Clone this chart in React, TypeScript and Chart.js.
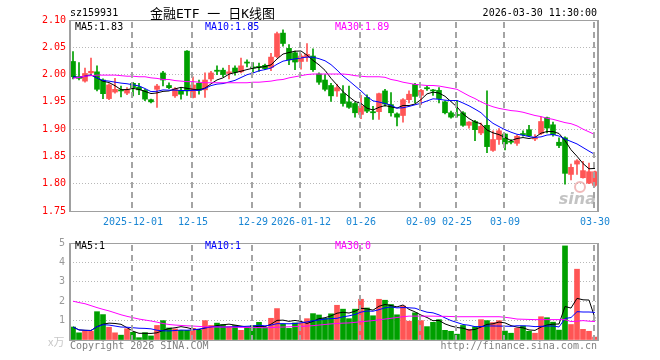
import React, { useEffect, useRef } from "react";
import { Chart, registerables } from "chart.js";
Chart.register(...registerables);

const dates = [
  "2025-11-17","2025-11-18","2025-11-19","2025-11-20","2025-11-21","2025-11-24","2025-11-25","2025-11-26","2025-11-27","2025-11-28",
  "2025-12-01","2025-12-02","2025-12-03","2025-12-04","2025-12-05","2025-12-08","2025-12-09","2025-12-10","2025-12-11","2025-12-12",
  "2025-12-15","2025-12-16","2025-12-17","2025-12-18","2025-12-19","2025-12-22","2025-12-23","2025-12-24","2025-12-25","2025-12-26",
  "2025-12-29","2025-12-30","2025-12-31","2026-01-05","2026-01-06","2026-01-07","2026-01-08","2026-01-09",
  "2026-01-12","2026-01-13","2026-01-14","2026-01-15","2026-01-16","2026-01-19","2026-01-20","2026-01-21","2026-01-22","2026-01-23",
  "2026-01-26","2026-01-27","2026-01-28","2026-01-29","2026-01-30","2026-02-02","2026-02-03","2026-02-04","2026-02-05","2026-02-06",
  "2026-02-09","2026-02-10","2026-02-11","2026-02-12","2026-02-13","2026-02-24",
  "2026-02-25","2026-02-26","2026-02-27","2026-03-02","2026-03-03","2026-03-04","2026-03-05","2026-03-06",
  "2026-03-09","2026-03-10","2026-03-11","2026-03-12","2026-03-13","2026-03-16","2026-03-17","2026-03-18","2026-03-19","2026-03-20",
  "2026-03-23","2026-03-24","2026-03-25","2026-03-26","2026-03-27","2026-03-30",
];

const tickDates = ["2025-12-01","2025-12-15","2025-12-29","2026-01-12","2026-01-26","2026-02-09","2026-02-25","2026-03-09","2026-03-30"];
const tickTexts = ["2025-12-01","12-15","12-29","2026-01-12","01-26","02-09","02-25","03-09","03-30"];

const opens = [
  2.024,1.996,1.988,2.003,2.005,1.990,1.956,1.968,1.972,1.966,
  1.984,1.977,1.971,1.954,1.973,2.003,1.980,1.961,1.971,2.043,
  1.958,1.984,1.972,1.992,2.008,2.008,2.002,2.012,2.005,2.023,
  2.014,2.015,2.017,2.013,2.033,2.076,2.048,2.040,2.024,2.032,
  2.034,2.001,1.990,1.980,1.970,1.965,1.950,1.947,1.927,1.958,
  1.932,1.932,1.970,1.945,1.928,1.925,1.954,1.982,1.962,1.976,
  1.971,1.971,1.950,1.930,1.926,1.930,1.907,1.914,1.893,1.907,
  1.861,1.881,1.891,1.877,1.874,1.892,1.899,1.882,1.892,1.921,
  1.908,1.876,1.884,1.817,1.836,1.811,1.801,1.797,
];
const highs = [
  2.042,2.022,2.012,2.030,2.016,1.992,1.983,1.993,1.979,1.976,
  1.986,1.984,1.973,1.955,1.982,2.006,1.985,1.976,1.975,2.044,
  1.996,1.990,2.003,2.006,2.016,2.012,2.017,2.016,2.030,2.027,
  2.022,2.021,2.019,2.039,2.078,2.082,2.055,2.043,2.038,2.057,
  2.047,2.003,2.000,1.984,1.982,1.980,1.979,1.949,1.962,1.963,
  1.942,1.966,1.973,1.967,1.930,1.956,1.970,1.984,1.973,1.979,
  1.973,1.976,1.952,1.933,1.952,1.932,1.914,1.916,1.911,1.970,
  1.897,1.901,1.892,1.881,1.889,1.897,1.907,1.890,1.922,1.922,
  1.913,1.884,1.886,1.836,1.844,1.841,1.838,1.823,
];
const lows = [
  1.992,1.990,1.986,2.001,1.970,1.956,1.954,1.966,1.959,1.963,
  1.961,1.963,1.952,1.948,1.940,1.979,1.974,1.958,1.955,1.962,
  1.957,1.964,1.958,1.988,2.000,1.996,1.992,1.999,2.003,2.014,
  2.004,2.006,2.009,2.007,2.031,2.052,2.018,2.009,2.010,2.024,
  2.006,1.982,1.970,1.951,1.960,1.942,1.938,1.922,1.919,1.930,
  1.918,1.918,1.942,1.924,1.906,1.913,1.948,1.948,1.945,1.971,
  1.962,1.948,1.928,1.920,1.922,1.905,1.902,1.879,1.890,1.857,
  1.859,1.872,1.862,1.873,1.870,1.887,1.886,1.879,1.890,1.893,
  1.887,1.866,1.799,1.807,1.817,1.810,1.800,1.795,
];
const closes = [
  1.996,1.993,2.002,2.006,1.973,1.965,1.981,1.973,1.970,1.973,
  1.976,1.972,1.955,1.950,1.979,1.990,1.976,1.974,1.964,1.970,
  1.981,1.971,1.990,2.003,2.006,2.000,2.005,2.004,2.016,2.021,
  2.012,2.013,2.011,2.032,2.075,2.057,2.027,2.023,2.034,2.037,
  2.009,1.986,1.973,1.961,1.976,1.947,1.940,1.930,1.942,1.933,
  1.930,1.965,1.946,1.930,1.922,1.954,1.964,1.960,1.971,1.974,
  1.970,1.956,1.930,1.922,1.925,1.907,1.913,1.899,1.905,1.868,
  1.881,1.897,1.873,1.876,1.887,1.890,1.888,1.884,1.914,1.902,
  1.890,1.870,1.819,1.830,1.842,1.824,1.822,1.822,
];
const volumes = [
  0.67,0.37,0.46,0.46,1.46,1.31,0.66,0.37,0.25,0.58,
  0.40,0.12,0.38,0.21,0.75,1.00,0.62,0.57,0.50,0.50,
  0.60,0.50,1.00,0.75,0.87,0.80,0.67,0.75,0.50,0.64,
  0.75,0.91,0.65,1.12,1.62,0.82,0.60,0.88,0.87,1.10,
  1.36,1.29,1.12,1.35,1.79,1.59,1.10,1.59,2.10,1.65,
  1.25,2.10,2.05,1.83,1.30,1.75,0.97,1.40,1.00,0.69,
  0.91,1.05,0.50,0.45,0.30,0.75,0.55,0.68,1.05,1.00,
  0.90,1.00,0.46,0.35,0.61,0.72,0.45,0.35,1.20,1.15,
  0.92,0.51,4.85,0.80,3.65,0.55,0.45,0.15,
];
// 30-day averages as drawn (they depend on days before the visible window)
const priceMa30 = [
  1.993,1.995,1.997,1.998,1.999,1.999,1.999,1.999,1.998,1.997,
  1.997,1.996,1.996,1.994,1.993,1.991,1.991,1.989,1.988,1.987,
  1.987,1.986,1.985,1.985,1.985,1.985,1.985,1.985,1.985,1.985,
  1.986,1.986,1.987,1.988,1.990,1.991,1.994,1.996,1.998,2.000,
  2.001,2.001,2.001,2.001,2.001,2.001,2.000,1.998,1.997,1.996,
  1.996,1.996,1.995,1.991,1.989,1.986,1.984,1.982,1.981,1.980,
  1.980,1.979,1.977,1.975,1.973,1.967,1.961,1.956,1.950,1.945,
  1.941,1.938,1.936,1.934,1.933,1.931,1.928,1.925,1.923,1.920,
  1.918,1.915,1.912,1.910,1.906,1.900,1.895,1.890,
];
const volumeMa30 = [
  2.00,1.93,1.87,1.77,1.67,1.58,1.50,1.40,1.30,1.22,
  1.15,1.08,1.03,0.98,0.92,0.85,0.80,0.77,0.75,0.73,
  0.72,0.70,0.68,0.67,0.67,0.67,0.67,0.66,0.65,0.65,
  0.64,0.64,0.63,0.64,0.66,0.67,0.68,0.69,0.70,0.72,
  0.74,0.77,0.80,0.83,0.85,0.87,0.88,0.91,0.94,0.97,
  1.00,1.04,1.08,1.12,1.16,1.20,1.23,1.23,1.23,1.23,
  1.23,1.22,1.22,1.21,1.20,1.20,1.20,1.20,1.20,1.20,
  1.20,1.20,1.17,1.13,1.08,1.07,1.06,1.05,1.05,1.05,
  1.05,1.05,1.05,0.95,0.97,1.00,0.97,0.95,
];

const priceTicks = { min: 1.75, max: 2.10, step: 0.05 };
const volumeTicks = { min: 0, max: 5, step: 1 };

const RED = "#ff5555";
const GREEN = "#00a000";
const MONO = "'DejaVu Sans Mono', 'Liberation Mono', monospace";

function movingAverage(values: number[], n: number): number[] {
  return values.map((_, i) => {
    const w = values.slice(Math.max(0, i - n + 1), i + 1);
    return w.reduce((a, b) => a + b, 0) / w.length;
  });
}

const candleColors = closes.map((c, i) => (c > opens[i] ? RED : GREEN));
const tickIdx = tickDates.map((d) => dates.indexOf(d));

// dashed vertical lines at the labelled dates (placed through the x scale), then the panel frame
const framePlugin = {
  id: "frame",
  afterDraw(chart: any) {
    const { ctx, chartArea: a } = chart;
    const xs = chart.scales.x;
    ctx.save();
    ctx.fillStyle = "#a4a4a4";
    tickIdx.forEach((i) => {
      const x = Math.round(xs.getPixelForValue(i) - 2.5);
      for (let y = a.top + 2; y < a.bottom; y += 10) {
        ctx.fillRect(x, y, 2, Math.min(6, a.bottom - y));
      }
    });
    ctx.fillStyle = "#a0a0a0";
    ctx.fillRect(a.left - 1, a.top, 2, a.bottom - a.top + 1);
    ctx.fillRect(a.right - 1, a.top, 2, a.bottom - a.top + 1);
    ctx.fillRect(a.left, a.top, a.right - a.left, 1);
    ctx.fillRect(a.left, a.bottom, a.right - a.left, 1);
    ctx.restore();
  },
};

const watermarkPlugin = {
  id: "watermark",
  beforeDatasetsDraw(chart: any) {
    const { ctx, chartArea: a } = chart;
    ctx.save();
    ctx.strokeStyle = "rgba(230,140,140,0.6)";
    ctx.lineWidth = 2;
    ctx.beginPath();
    ctx.arc(a.right - 18, a.bottom - 24, 5, 0, Math.PI * 2);
    ctx.stroke();
    ctx.fillStyle = "rgba(170,170,170,0.7)";
    ctx.font = "italic bold 16px 'DejaVu Sans'";
    ctx.textAlign = "right";
    ctx.fillText("sina", a.right - 2, a.bottom - 7);
    ctx.restore();
  },
};

function xScale(showTicks: boolean, height: number) {
  return {
    offset: true,
    grid: { display: false, drawTicks: false },
    border: { display: false },
    ticks: {
      display: showTicks,
      autoSkip: false,
      maxRotation: 0,
      minRotation: 0,
      padding: 5,
      color: "#1a86d4",
      font: { family: MONO, size: 10 },
      callback: (_v: any, i: number) => {
        const k = tickIdx.indexOf(i);
        return k >= 0 ? tickTexts[k] : "";
      },
    },
    afterFit: (s: any) => {
      s.height = height;
    },
  };
}

export default function App() {
  const mainRef = useRef<HTMLCanvasElement>(null);
  const volRef = useRef<HTMLCanvasElement>(null);

  useEffect(() => {
    const ma5 = movingAverage(closes, 5);
    const ma10 = movingAverage(closes, 10);
    const vma5 = movingAverage(volumes, 5);
    const vma10 = movingAverage(volumes, 10);
    const line = (data: number[], color: string) => ({
      type: "line" as const,
      data,
      borderColor: color,
      borderWidth: 1,
      pointRadius: 0,
      tension: 0,
      fill: false,
      order: 0,
    });

    const main = new Chart(mainRef.current!, {
      type: "bar",
      data: {
        labels: dates,
        datasets: [
          line(priceMa30, "#ff00ff") as any,
          line(ma10, "#0000ff") as any,
          line(ma5, "#000000") as any,
          {
            type: "bar",
            data: lows.map((l, i) => [l, highs[i]]),
            backgroundColor: candleColors,
            barThickness: 1,
            grouped: false,
            order: 2,
          } as any,
          {
            type: "bar",
            data: opens.map((o, i) => [o, closes[i]]),
            backgroundColor: candleColors,
            barThickness: 5,
            minBarLength: 1,
            grouped: false,
            order: 1,
          } as any,
        ],
      },
      options: {
        responsive: false,
        animation: false,
        events: [],
        layout: { padding: { left: 0, right: 62, top: 20, bottom: 0 } },
        plugins: { legend: { display: false }, tooltip: { enabled: false } },
        scales: {
          x: xScale(true, 21) as any,
          y: {
            min: priceTicks.min,
            max: priceTicks.max,
            grid: { drawTicks: false, color: "#b8b8b8", lineWidth: 1 },
            border: { display: false, dash: [1, 2] },
            ticks: {
              stepSize: priceTicks.step,
              padding: 4,
              color: "#ff0000",
              font: { family: MONO, size: 10 },
              callback: (v: any) => Number(v).toFixed(2),
            },
            afterFit: (s: any) => {
              s.width = 70;
            },
          } as any,
        },
      },
      plugins: [watermarkPlugin, framePlugin],
    });

    const vol = new Chart(volRef.current!, {
      type: "bar",
      data: {
        labels: dates,
        datasets: [
          line(volumeMa30, "#ff00ff") as any,
          line(vma10, "#0000ff") as any,
          line(vma5, "#000000") as any,
          {
            type: "bar",
            data: volumes,
            backgroundColor: candleColors,
            barThickness: 5,
            grouped: false,
            order: 1,
          } as any,
        ],
      },
      options: {
        responsive: false,
        animation: false,
        events: [],
        layout: { padding: { left: 0, right: 62, top: 8, bottom: 20 } },
        plugins: { legend: { display: false }, tooltip: { enabled: false } },
        scales: {
          x: xScale(false, 0) as any,
          y: {
            min: volumeTicks.min,
            max: volumeTicks.max,
            grid: { drawTicks: false, color: "#b8b8b8", lineWidth: 1 },
            border: { display: false, dash: [1, 2] },
            ticks: {
              stepSize: volumeTicks.step,
              padding: 5,
              color: "#999999",
              font: { family: MONO, size: 10 },
              callback: (v: any) => (Number(v) === 0 ? "" : String(v)),
            },
            afterFit: (s: any) => {
              s.width = 70;
            },
          } as any,
        },
      },
      plugins: [framePlugin],
    });

    return () => {
      main.destroy();
      vol.destroy();
    };
  }, []);

  const T = (p: { x?: number; r?: number; cy: number; size?: number; color?: string; text: string; family?: string }) => {
    const size = p.size ?? 10;
    return (
      <div
        style={{
          position: "absolute",
          left: p.x,
          right: p.r,
          top: p.cy - size / 2 - 1,
          fontSize: size,
          lineHeight: `${size + 2}px`,
          fontFamily: p.family ?? MONO,
          color: p.color ?? "#000",
          whiteSpace: "pre",
        }}
      >
        {p.text}
      </div>
    );
  };

  return (
    <div style={{ position: "absolute", left: 0, top: 0, width: 660, height: 360, background: "#fff", overflow: "hidden" }}>
      <canvas ref={mainRef} width={660} height={232} style={{ position: "absolute", left: 0, top: 0 }} />
      <canvas ref={volRef} width={660} height={128} style={{ position: "absolute", left: 0, top: 232 }} />
      <T x={70} cy={13} text="sz159931" />
      <T x={150} cy={13} size={13} text="金融ETF 一 日K线图" family={`'DejaVu Sans Mono', 'Noto Sans CJK SC', sans-serif`} />
      <T r={63} cy={13} text="2026-03-30 11:30:00" />
      <T x={75} cy={27} text="MA5:1.83" color="#000000" />
      <T x={205} cy={27} text="MA10:1.85" color="#0000ff" />
      <T x={335} cy={27} text="MA30:1.89" color="#ff00ff" />
      <T x={75} cy={246} text="MA5:1" color="#000000" />
      <T x={205} cy={246} text="MA10:1" color="#0000ff" />
      <T x={335} cy={246} text="MA30:0" color="#ff00ff" />
      <T x={48} cy={341} size={11} text="x万" color="#c8c8c8" family={`'Noto Sans CJK SC', sans-serif`} />
      <T x={70} cy={346} text="Copyright 2026 SINA.COM" color="#808080" />
      <T r={63} cy={346} text="http://finance.sina.com.cn" color="#808080" />
    </div>
  );
}
